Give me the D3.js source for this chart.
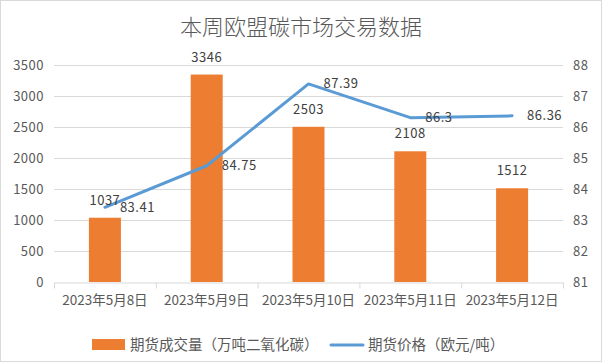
<!DOCTYPE html>
<html>
<head>
<meta charset="utf-8">
<script src="https://d3js.org/d3.v7.min.js"></script>
<style>
  body { margin: 0; background: #fff; }
  text { font-family: "Noto Sans CJK SC", "Noto Sans", sans-serif; }
</style>
</head>
<body>
<svg id="mainsvg"></svg>
<script>
// data
const categories = ["2023年5月8日", "2023年5月9日", "2023年5月10日", "2023年5月11日", "2023年5月12日"];
const volume = [1037, 3346, 2503, 2108, 1512];
const price = [83.41, 84.75, 87.39, 86.3, 86.36];
const leftTicks = [0, 500, 1000, 1500, 2000, 2500, 3000, 3500];
const rightTicks = [81, 82, 83, 84, 85, 86, 87, 88];

const width = 602, height = 362;
const margin = { top: 65, right: 39, bottom: 80, left: 54 };
const textColor = "#595959";

const svg = d3.select("#mainsvg")
    .attr("width", width)
    .attr("height", height);

// chart border
svg.append("rect")
    .attr("x", 0.5).attr("y", 0.5)
    .attr("width", width - 1).attr("height", height - 1)
    .attr("fill", "#fff").attr("stroke", "#d9d9d9");

svg.append("text")
    .attr("x", width / 2).attr("y", 35)
    .attr("text-anchor", "middle")
    .attr("fill", textColor)
    .style("font-size", "22px")
    .style("font-weight", 300)
    .text("本周欧盟碳市场交易数据");

const x = d3.scaleBand()
    .domain(categories)
    .range([margin.left, width - margin.right]);

const yL = d3.scaleLinear([0, 3500], [height - margin.bottom, margin.top]);
const yR = d3.scaleLinear([81, 88], [height - margin.bottom, margin.top]);

// grid
svg.append("g")
    .selectAll("line")
    .data(leftTicks.slice(1))
    .join("line")
    .attr("x1", margin.left).attr("x2", width - margin.right)
    .attr("y1", d => yL(d) + 0.5).attr("y2", d => yL(d) + 0.5)
    .attr("stroke", "#d9d9d9");

// left axis
const axL = svg.append("g")
    .attr("transform", `translate(${margin.left - 10},0)`)
    .call(d3.axisLeft(yL).tickValues(leftTicks).tickFormat(d3.format("d")).tickSize(0).tickPadding(0));
axL.select(".domain").remove();
axL.selectAll("text").attr("fill", textColor).style("font-size", "13px").style("letter-spacing", "0.5px");

// right axis
const axR = svg.append("g")
    .attr("transform", `translate(${width - margin.right + 10},0)`)
    .call(d3.axisRight(yR).tickValues(rightTicks).tickFormat(d3.format("d")).tickSize(0).tickPadding(0));
axR.select(".domain").remove();
axR.selectAll("text").attr("fill", textColor).style("font-size", "13px").style("letter-spacing", "0.5px");

// bottom axis
const axB = svg.append("g")
    .attr("transform", `translate(0,${height - margin.bottom + 0.5})`)
    .call(d3.axisBottom(x).tickSize(0).tickPadding(13));
axB.select(".domain").attr("stroke", "#d9d9d9");
axB.selectAll("text").attr("fill", textColor).style("font-size", "13.5px");
axB.selectAll(".sep")
    .data(d3.range(categories.length + 1))
    .join("line")
    .attr("class", "sep")
    .attr("x1", i => margin.left + i * x.step() + 0.5)
    .attr("x2", i => margin.left + i * x.step() + 0.5)
    .attr("y1", 0).attr("y2", 6)
    .attr("stroke", "#d9d9d9");

// bars
const barW = 32;
svg.append("g")
    .selectAll("rect")
    .data(volume)
    .join("rect")
    .attr("x", (d, i) => x(categories[i]) + x.bandwidth() / 2 - barW / 2)
    .attr("y", d => yL(d))
    .attr("width", barW)
    .attr("height", d => yL(0) - yL(d))
    .attr("fill", "#ED7D31");

// line
const line = d3.line()
    .x((d, i) => x(categories[i]) + x.bandwidth() / 2)
    .y(d => yR(d));
svg.append("path")
    .datum(price)
    .attr("d", line)
    .attr("fill", "none")
    .attr("stroke", "#5B9BD5")
    .attr("stroke-width", 3)
    .attr("stroke-linejoin", "round")
    .attr("stroke-linecap", "round");

// bar labels
svg.append("g")
    .selectAll("text")
    .data(volume)
    .join("text")
    .attr("x", (d, i) => x(categories[i]) + x.bandwidth() / 2)
    .attr("y", d => yL(d) - 13)
    .attr("text-anchor", "middle")
    .attr("fill", "#404040")
    .style("font-size", "13px")
    .style("letter-spacing", "0.5px")
    .text(d => d);

// line labels
svg.append("g")
    .selectAll("text")
    .data(price)
    .join("text")
    .attr("x", (d, i) => x(categories[i]) + x.bandwidth() / 2 + 15)
    .attr("y", d => yR(d) + 4.5)
    .attr("fill", "#404040")
    .style("font-size", "13px")
    .style("letter-spacing", "0.5px")
    .text(d => d);

// legend
const lg = svg.append("g").attr("transform", "translate(0,345)");
lg.append("rect")
    .attr("x", 92).attr("y", -6).attr("width", 33).attr("height", 11)
    .attr("fill", "#ED7D31");
lg.append("text")
    .attr("x", 130).attr("y", 5)
    .attr("fill", textColor)
    .style("font-size", "14.5px")
    .text("期货成交量（万吨二氧化碳）");
lg.append("line")
    .attr("x1", 331).attr("x2", 363).attr("y1", 0).attr("y2", 0)
    .attr("stroke", "#5B9BD5").attr("stroke-width", 3).attr("stroke-linecap", "round");
lg.append("text")
    .attr("x", 368).attr("y", 5)
    .attr("fill", textColor)
    .style("font-size", "14.5px")
    .text("期货价格（欧元/吨）");
</script>
</body>
</html>
